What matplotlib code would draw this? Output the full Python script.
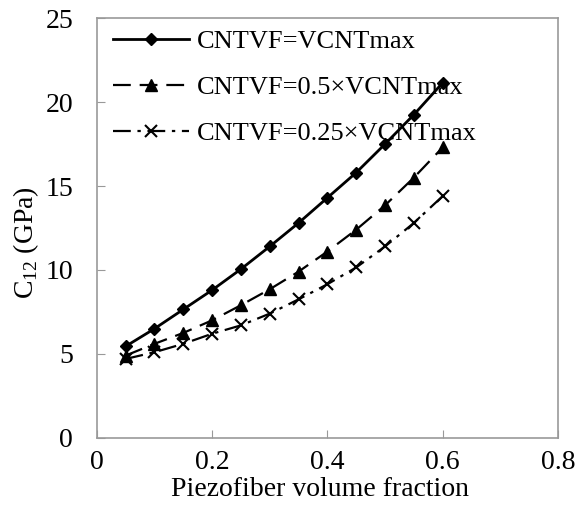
import matplotlib
matplotlib.use("Agg")
import matplotlib.pyplot as plt

# piezofiber volume fraction
vf = [0.05, 0.10, 0.15, 0.20, 0.25, 0.30, 0.35, 0.40, 0.45, 0.50, 0.55, 0.60]

# C12 (GPa) for the three CNT volume fractions
c12_full = [5.45, 6.5, 7.65, 8.8, 10.05, 11.4, 12.8, 14.3, 15.8, 17.5, 19.25, 21.15]
c12_half = [4.9, 5.6, 6.25, 7.0, 7.9, 8.85, 9.9, 11.1, 12.4, 13.85, 15.5, 17.3]
c12_quarter = [4.7, 5.1, 5.6, 6.2, 6.7, 7.4, 8.25, 9.15, 10.15, 11.4, 12.8, 14.4]

labels = ["CNTVF=VCNTmax", "CNTVF=0.5\u00d7VCNTmax", "CNTVF=0.25\u00d7VCNTmax"]

plt.rcParams['font.family'] = ['Liberation Serif', 'DejaVu Serif']
plt.rcParams['mathtext.fontset'] = 'custom'
plt.rcParams['mathtext.rm'] = 'Liberation Serif'

fig = plt.figure(figsize=(5.83, 5.2), dpi=100)
ax = fig.add_axes([0.166, 0.158, 0.791, 0.807])

ax.plot(vf, c12_full, color='black', lw=2, marker='D', ms=6, label=labels[0])
ax.plot(vf, c12_half, color='black', lw=1.6, marker='^', ms=9,
        dashes=(8, 4), label=labels[1])
ax.plot(vf, c12_quarter, color='black', lw=1.6, marker='x', ms=9, mew=1.5,
        dashes=(8, 3, 1.5, 3), label=labels[2])

ax.set_xlim(0, 0.8)
ax.set_ylim(0, 25)
ax.set_xticks([0, 0.2, 0.4, 0.6, 0.8])
ax.set_xticklabels(["0", "0.2", "0.4", "0.6", "0.8"])
ax.set_yticks([0, 5, 10, 15, 20, 25])

for s in ax.spines.values():
    s.set_color('#999999')
    s.set_linewidth(1.2)
ax.tick_params(direction='in', length=6, color='#999999', labelsize=20)
ax.tick_params(axis='x', pad=9)
ax.tick_params(axis='y', pad=17)

ax.set_xlabel("Piezofiber volume fraction", fontsize=20)
ax.xaxis.set_label_coords(0.483, -0.093)
ax.set_ylabel(r"C$_{\mathrm{12}}$ (GPa)", fontsize=20)
ax.yaxis.set_label_coords(-0.12, 0.465)

ax.legend(loc='upper left', frameon=False, fontsize=19, handlelength=2.85,
          labelspacing=0.85, handletextpad=0.3, borderaxespad=0.0,
          bbox_to_anchor=(0.013, 0.997))

fig.savefig("out.png", dpi=100)
